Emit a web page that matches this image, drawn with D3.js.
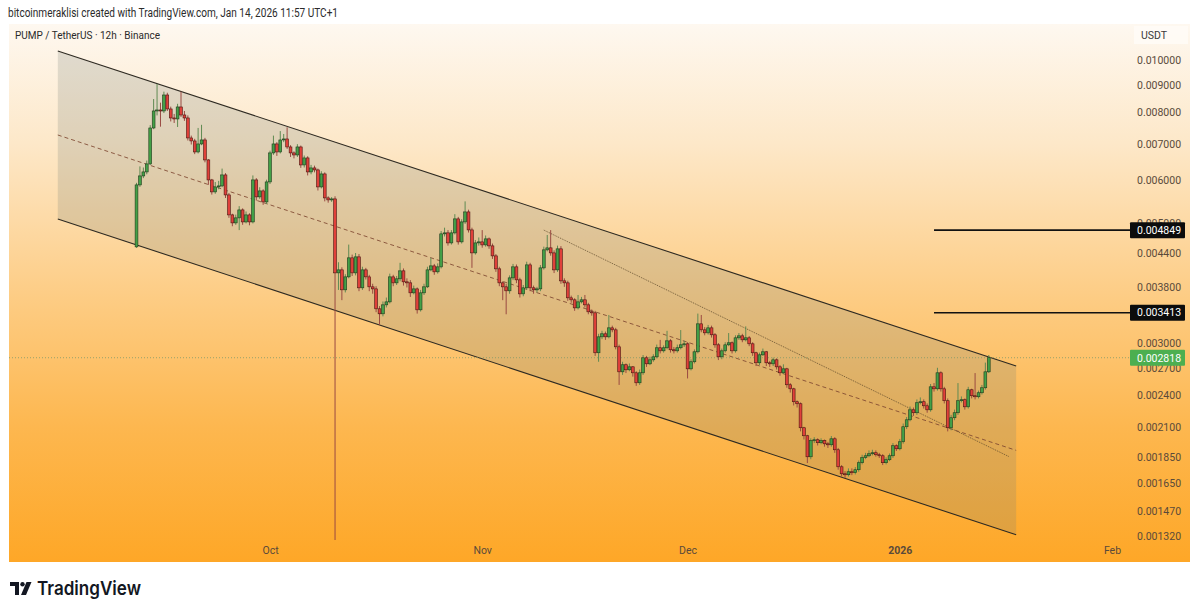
<!DOCTYPE html>
<html><head><meta charset="utf-8">
<script src="https://cdn.jsdelivr.net/npm/d3@7"></script>
<style>
body{margin:0;background:#fff;}
svg{display:block;font-family:Roboto,"Noto Sans",sans-serif;}
</style>
</head><body>
<svg id="c" width="1200" height="613"></svg>
<script>
// ---------- DATA ----------
const firstCandle = "2025-09-11T12:00:00Z";   // first 12h candle
const firstOpen = 0.004516;
const closes = [
0.005878,0.006107,0.006212,0.006427,0.007489,0.008051,0.008085,0.008051,0.008617,0.008120,
0.007815,0.007782,0.008189,0.007915,0.007815,0.007178,0.007087,0.006763,0.006997,0.007117,
0.006537,0.006004,0.005706,0.005828,0.005853,0.006133,0.005633,0.005174,0.005001,0.005109,
0.005285,0.005022,0.005174,0.005022,0.006004,0.005586,0.005730,0.005468,0.005953,0.006735,
0.006997,0.006763,0.007117,0.007147,0.006908,0.006735,0.006677,0.006908,0.006399,0.006593,
0.006212,0.006318,0.006265,0.005828,0.006159,0.005562,0.005515,0.005538,0.004043,0.004095,
0.003762,0.003975,0.004310,0.004043,0.004328,0.003794,0.004095,0.003975,0.003810,0.003777,
0.003470,0.003397,0.003529,0.003574,0.003975,0.003875,0.003942,0.004078,0.003892,0.003875,
0.003714,0.003777,0.003455,0.003714,0.003810,0.004095,0.004165,0.004061,0.004148,0.004773,
0.004793,0.004593,0.004793,0.005087,0.004613,0.005022,0.005240,0.004854,0.004402,0.004593,
0.004613,0.004554,0.004672,0.004535,0.004346,0.004113,0.003875,0.003810,0.003746,0.003958,
0.004148,0.003925,0.003698,0.003794,0.004183,0.003794,0.003762,0.003777,0.004130,0.004459,
0.004497,0.004402,0.004095,0.004478,0.003908,0.003875,0.003636,0.003605,0.003484,0.003574,
0.003605,0.003529,0.003426,0.003411,0.002878,0.003080,0.003120,0.003080,0.003200,0.003173,
0.002952,0.002654,0.002735,0.002677,0.002711,0.002643,0.002533,0.002643,0.002817,0.002746,
0.002793,0.002829,0.002940,0.002902,0.002940,0.003028,0.002915,0.002902,0.002940,0.002977,
0.002990,0.002688,0.002770,0.002890,0.003255,0.003173,0.003133,0.003200,0.003107,0.002977,
0.002829,0.002902,0.002977,0.003003,0.002902,0.003067,0.003093,0.003041,0.003067,0.002990,
0.002878,0.002758,0.002853,0.002890,0.002758,0.002746,0.002793,0.002711,0.002643,0.002688,
0.002512,0.002469,0.002337,0.002317,0.002092,0.002022,0.001849,0.001980,0.001988,0.001963,
0.001980,0.001954,0.001946,0.001996,0.001905,0.001772,0.001720,0.001713,0.001735,0.001728,
0.001750,0.001803,0.001842,0.001857,0.001873,0.001881,0.001865,0.001857,0.001803,0.001826,
0.001857,0.001938,0.001913,0.001971,0.002101,0.002164,0.002258,0.002230,0.002327,0.002337,
0.002297,0.002258,0.002490,0.002469,0.002643,0.002469,0.002347,0.002092,0.002183,0.002230,
0.002347,0.002357,0.002287,0.002459,0.002397,0.002387,0.002428,0.002480,0.002654,0.002818];
const highs = [
0.005930,0.006360,0.006330,0.006520,0.007580,0.008470,0.009030,0.008340,0.008740,0.008700,
0.008200,0.007950,0.008300,0.008740,0.008050,0.007900,0.007250,0.007150,0.007490,0.007590,
0.007180,0.006560,0.006030,0.005950,0.005980,0.006300,0.006180,0.005680,0.005200,0.005180,
0.005370,0.005320,0.005250,0.005210,0.006120,0.006050,0.005820,0.005770,0.006010,0.006800,
0.007250,0.007050,0.007390,0.007300,0.007510,0.006960,0.006780,0.006990,0.006950,0.006660,
0.006640,0.006400,0.006380,0.006300,0.006230,0.006200,0.005600,0.005580,0.005600,0.004230,
0.004140,0.004020,0.004560,0.004370,0.004400,0.004380,0.004150,0.004130,0.004010,0.003860,
0.003820,0.003510,0.003580,0.003640,0.004030,0.004010,0.003990,0.004220,0.004120,0.003950,
0.003920,0.003830,0.003800,0.003760,0.003860,0.004150,0.004310,0.004200,0.004210,0.004830,
0.004900,0.004850,0.004850,0.005190,0.005130,0.005080,0.005480,0.005290,0.004900,0.004650,
0.004700,0.004850,0.004740,0.004700,0.004580,0.004380,0.004150,0.003900,0.003860,0.004000,
0.004200,0.004190,0.003960,0.003840,0.004240,0.004220,0.003830,0.003810,0.004180,0.004520,
0.004750,0.004850,0.004450,0.004540,0.004530,0.003950,0.003910,0.003670,0.003630,0.003680,
0.003650,0.003680,0.003560,0.003460,0.003440,0.003120,0.003160,0.003150,0.003380,0.003230,
0.003200,0.002980,0.002770,0.002750,0.002750,0.002720,0.002660,0.002680,0.002850,0.002840,
0.002830,0.002860,0.002980,0.003040,0.002970,0.003160,0.003050,0.002950,0.002980,0.003170,
0.003030,0.003010,0.002800,0.002920,0.003400,0.003380,0.003210,0.003240,0.003230,0.003130,
0.003000,0.002930,0.003010,0.003130,0.003020,0.003100,0.003130,0.003120,0.003220,0.003090,
0.003010,0.002890,0.002880,0.002930,0.002900,0.002780,0.002820,0.002810,0.002730,0.002740,
0.002700,0.002530,0.002480,0.002350,0.002330,0.002100,0.002030,0.002000,0.002010,0.002000,
0.002000,0.001990,0.001970,0.002020,0.002010,0.001920,0.001785,0.001740,0.001760,0.001760,
0.001770,0.001820,0.001865,0.001880,0.001900,0.001905,0.001900,0.001880,0.001870,0.001845,
0.001875,0.001960,0.001950,0.001995,0.002130,0.002190,0.002290,0.002280,0.002360,0.002380,
0.002360,0.002320,0.002520,0.002530,0.002700,0.002660,0.002490,0.002370,0.002210,0.002260,
0.002530,0.002390,0.002370,0.002490,0.002470,0.002640,0.002450,0.002510,0.002760,0.002850];
const lows = [
0.004497,0.005830,0.006050,0.006150,0.006400,0.007450,0.007900,0.007530,0.007980,0.008050,
0.007700,0.007650,0.007520,0.007850,0.007720,0.007100,0.006980,0.006700,0.006720,0.006960,
0.006470,0.005880,0.005640,0.005660,0.005770,0.005820,0.005560,0.005110,0.004930,0.004960,
0.004850,0.004960,0.004990,0.004950,0.004990,0.005500,0.005540,0.005400,0.005420,0.005900,
0.006680,0.006650,0.006720,0.007050,0.006850,0.006620,0.006580,0.006620,0.006320,0.006330,
0.006120,0.006150,0.006200,0.005740,0.005790,0.005480,0.005450,0.005470,0.001270,0.003760,
0.003600,0.003720,0.003950,0.003990,0.004000,0.003740,0.003760,0.003930,0.003740,0.003700,
0.003420,0.003240,0.003360,0.003490,0.003550,0.003820,0.003840,0.003900,0.003830,0.003800,
0.003650,0.003690,0.003400,0.003430,0.003680,0.003790,0.004070,0.004010,0.004030,0.004120,
0.004720,0.004540,0.004560,0.004760,0.004560,0.004580,0.004980,0.004800,0.004130,0.004370,
0.004540,0.004500,0.004520,0.004480,0.004290,0.004060,0.003820,0.003600,0.003390,0.003700,
0.003920,0.003870,0.003640,0.003660,0.003760,0.003740,0.003700,0.003720,0.003740,0.004100,
0.004430,0.004350,0.004040,0.004060,0.003860,0.003810,0.003590,0.003560,0.003440,0.003460,
0.003550,0.003490,0.003390,0.003370,0.002840,0.002770,0.003050,0.003040,0.003060,0.003140,
0.002920,0.002510,0.002620,0.002640,0.002660,0.002600,0.002500,0.002510,0.002620,0.002710,
0.002730,0.002770,0.002810,0.002870,0.002880,0.002920,0.002880,0.002870,0.002880,0.002920,
0.002950,0.002580,0.002670,0.002750,0.002870,0.003140,0.003100,0.003110,0.003070,0.002940,
0.002790,0.002800,0.002880,0.002960,0.002870,0.002880,0.003040,0.003010,0.003020,0.002960,
0.002840,0.002720,0.002730,0.002840,0.002720,0.002710,0.002720,0.002680,0.002610,0.002630,
0.002480,0.002430,0.002300,0.002280,0.002060,0.001990,0.001800,0.001830,0.001960,0.001940,
0.001950,0.001930,0.001920,0.001930,0.001880,0.001750,0.001700,0.001690,0.001700,0.001710,
0.001715,0.001735,0.001790,0.001830,0.001845,0.001860,0.001850,0.001840,0.001785,0.001790,
0.001815,0.001840,0.001895,0.001900,0.001955,0.002080,0.002150,0.002200,0.002210,0.002310,
0.002270,0.002230,0.002240,0.002440,0.002450,0.002440,0.002320,0.002060,0.002070,0.002160,
0.002210,0.002330,0.002260,0.002270,0.002370,0.002360,0.002370,0.002410,0.002460,0.002640];

const priceTicks = [0.010000,0.009000,0.008000,0.007000,0.006000,0.005000,0.004400,0.003800,
                    0.003000,0.002700,0.002400,0.002100,0.001850,0.001650,0.001470,0.001320];
const timeTicks  = ["2025-10-01","2025-11-01","2025-12-01","2026-01-01","2026-02-01"];
const timeLabels = ["Oct","Nov","Dec","2026","Feb"];

const channelUpper = [["2025-08-31",0.010390],["2026-01-18",0.002721]];
const channelLower = [["2025-08-31",0.005085],["2026-01-18",0.001327]];
const trendLine    = [["2025-11-10T00:00:00Z",0.004850],["2026-01-17",0.001849]];
const levelLines   = [0.004849, 0.003413];
const levelStart   = "2026-01-06";
const lastPrice    = 0.002818;

// ---------- LAYOUT ----------
const svg = d3.select("#c");
const P = {left:9, top:24, right:1190, bottom:562, plotRight:1130, plotBottom:540};
const x = d3.scaleUtc().domain([new Date("2025-10-01"), new Date("2026-02-01")]).range([270,1112]);
const y = d3.scaleLog().domain([0.00132, 0.01]).range([536, 60]);
const fmt = d3.format(".6f");

const defs = svg.append("defs");
const g = defs.append("linearGradient").attr("id","bg").attr("x1",0).attr("y1",0).attr("x2",0).attr("y2",1);
[[0,"#fef8f0"],[0.22,"#fde8c9"],[0.5,"#fdcd86"],[0.75,"#fdb74f"],[1,"#fea727"]]
  .forEach(s=>g.append("stop").attr("offset",s[0]).attr("stop-color",s[1]));
defs.append("clipPath").attr("id","plot").append("rect")
  .attr("x",P.left).attr("y",P.top).attr("width",P.plotRight-P.left).attr("height",P.plotBottom-P.top);

// header
svg.append("text").attr("x",8).attr("y",17).attr("font-size",12).attr("fill","#2b2b2b")
  .attr("textLength",330).attr("lengthAdjust","spacingAndGlyphs")
  .text("bitcoinmeraklisi created with TradingView.com, Jan 14, 2026 11:57 UTC+1");

// panel background
svg.append("rect").attr("x",P.left).attr("y",P.top).attr("width",P.right-P.left).attr("height",P.bottom-P.top)
  .attr("fill","url(#bg)");

svg.append("text").attr("x",15).attr("y",39).attr("font-size",11).attr("fill","#2a2a2a")
  .attr("textLength",145).attr("lengthAdjust","spacingAndGlyphs")
  .text("PUMP / TetherUS · 12h · Binance");

const plot = svg.append("g").attr("clip-path","url(#plot)");

// channel
const pt = d => [x(new Date(d[0])), y(d[1])];
const u0 = pt(channelUpper[0]), u1 = pt(channelUpper[1]);
const l0 = pt(channelLower[0]), l1 = pt(channelLower[1]);
plot.append("path").attr("d", d3.line()([u0,u1,l1,l0]) + "Z")
  .attr("fill","rgba(118,126,118,0.22)").attr("stroke","none");
plot.append("path").attr("d", d3.line()([u0,u1])).attr("stroke","#2e2a22").attr("stroke-width",1.1).attr("fill","none");
plot.append("path").attr("d", d3.line()([l0,l1])).attr("stroke","#2e2a22").attr("stroke-width",1.1).attr("fill","none");
const m0 = [u0[0], (u0[1]+l0[1])/2], m1 = [u1[0], (u1[1]+l1[1])/2];
plot.append("path").attr("d", d3.line()([m0,m1])).attr("stroke","#7e4630").attr("stroke-width",1)
  .attr("stroke-dasharray","4,3").attr("fill","none").attr("opacity",0.85);

// trend line (thin dotted)
plot.append("path").attr("d", d3.line()(trendLine.map(pt))).attr("stroke","#5a4628")
  .attr("stroke-width",1).attr("stroke-dasharray","1,1").attr("fill","none").attr("opacity",0.8);

// last price dotted line
plot.append("line").attr("x1",P.left).attr("x2",P.plotRight).attr("y1",y(lastPrice)).attr("y2",y(lastPrice))
  .attr("stroke","#7f9a6a").attr("stroke-width",1).attr("stroke-dasharray","1,2").attr("opacity",0.8);

// candles
const t0 = new Date(firstCandle);
const candles = closes.map((c,i)=>({
  t: d3.utcHour.offset(t0, 12*i),
  o: i===0 ? firstOpen : closes[i-1], c, h: highs[i], l: lows[i]
}));
const cg = plot.append("g");
candles.forEach(d=>{
  const up = d.c >= d.o;
  const cx = x(d.t);
  cg.append("line").attr("x1",cx).attr("x2",cx).attr("y1",y(d.h)).attr("y2",y(d.l))
    .attr("stroke", up ? "#5f8a52" : "#9a4a42").attr("stroke-width",1);
  const yt = y(Math.max(d.o,d.c)), yb = y(Math.min(d.o,d.c));
  cg.append("rect").attr("x",cx-1.4).attr("y",yt).attr("width",2.8).attr("height",Math.max(1,yb-yt))
    .attr("fill", up ? "#43a047" : "#e0403a").attr("stroke", up ? "#1f3a1c" : "#4a1612").attr("stroke-width",0.6);
});

// horizontal level lines
levelLines.forEach(v=>{
  svg.append("line").attr("x1",x(new Date(levelStart))).attr("x2",P.plotRight)
    .attr("y1",y(v)).attr("y2",y(v)).attr("stroke","#111").attr("stroke-width",1.6);
});

// price axis
const ya = svg.append("g").attr("transform",`translate(${P.plotRight},0)`)
  .call(d3.axisRight(y).tickValues(priceTicks).tickFormat(fmt).tickSize(0).tickPadding(7));
ya.select(".domain").remove();
ya.selectAll("text").attr("font-family","Roboto,sans-serif").attr("font-size",10.5).attr("fill","#5a4a3a");

// USDT box
svg.append("rect").attr("x",1134).attr("y",26).attr("width",54).attr("height",18).attr("fill","rgba(255,252,247,0.85)");
svg.append("text").attr("x",1141).attr("y",39).attr("font-size",10.5).attr("fill","#3a3a3a").text("USDT");

// price label boxes
function box(v, fill){
  svg.append("rect").attr("x",P.plotRight).attr("y",y(v)-8).attr("width",55).attr("height",16).attr("fill",fill).attr("rx",1);
  svg.append("text").attr("x",P.plotRight+7).attr("y",y(v)).attr("dy","0.36em").attr("font-size",10.5)
    .attr("fill","#fff").text(fmt(v));
}
levelLines.forEach(v=>box(v,"#0c0c0c"));
box(lastPrice,"#4caf50");

// time axis
const xa = svg.append("g").attr("transform",`translate(0,${P.plotBottom})`)
  .call(d3.axisBottom(x).tickValues(timeTicks.map(d=>new Date(d))).tickFormat((d,i)=>timeLabels[i]).tickSize(0).tickPadding(7));
xa.select(".domain").remove();
xa.selectAll("text").attr("font-family","Roboto,sans-serif").attr("font-size",10.5).attr("fill","#5a4a3a")
  .attr("font-weight",(d,i)=>timeLabels[i]==="2026"?"bold":"normal");

// TradingView logo
const lg = svg.append("g").attr("transform","translate(10,582)").attr("fill","#131722");
lg.append("path").attr("d","M0,0H9V13H5V4H0Z");
lg.append("circle").attr("cx",12.5).attr("cy",2.2).attr("r",2.2);
lg.append("path").attr("d","M16.5,0H21.5L16,13H11Z");
svg.append("text").attr("x",37).attr("y",595).attr("font-family","Inter,Roboto,sans-serif")
  .attr("font-size",19).attr("font-weight",600).attr("fill","#131722")
  .attr("textLength",104).attr("lengthAdjust","spacingAndGlyphs").text("TradingView");
</script>
</body></html>
